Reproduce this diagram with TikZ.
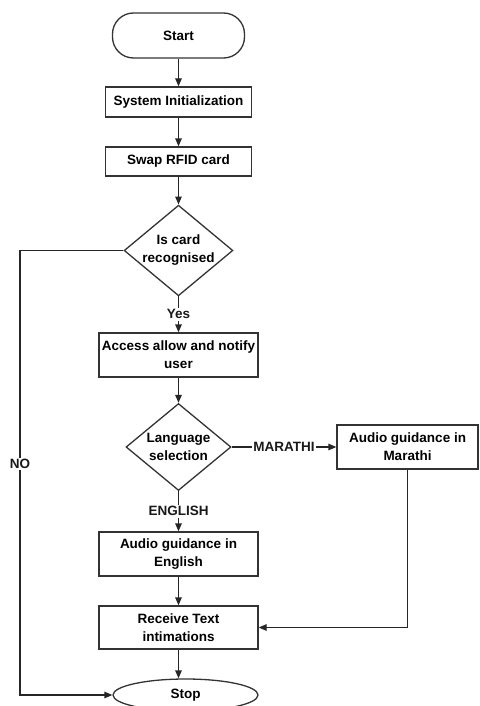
\documentclass[tikz,border=0pt]{standalone}
\usepackage{fontspec}
\setmainfont{Liberation Sans}
\usetikzlibrary{shapes.geometric,arrows.meta}
\begin{document}
\begin{tikzpicture}%
	[x=1pt,
	y=-1pt,
	font=\fontsize{13.5}{18}\selectfont\bfseries,
	terminal/.style={draw=black!80, line width=1.3pt, rectangle, rounded corners=21pt, minimum width=132pt, minimum height=45pt, inner sep=0pt},
	endterminal/.style={draw=black!80, line width=1.3pt, ellipse, minimum width=145pt, minimum height=32pt, inner sep=0pt},
	process/.style={draw=black!80, line width=1.3pt, rectangle, align=center, inner sep=0pt},
	decision/.style={draw=black!80, line width=1.3pt, diamond, aspect=1.2, align=center, inner sep=0pt, minimum width=105pt, minimum height=87pt},
	flowedge/.style={draw=black!85, line width=1.3pt, -{Triangle[length=8pt,width=6.5pt]}},
	flowlabel/.style={fill=white, inner sep=1.5pt, text=black!90}]
%
\useasboundingbox (0,0) rectangle (479,706);
%%
%% Drawing the steps
%%
\node[terminal] (start) at (178.5,35.5) {Start};
\node[process, minimum width=146pt, minimum height=30pt] (init) at (178.5,102) {System Initialization};
\node[process, minimum width=146pt, minimum height=29pt] (swap) at (178.5,161.5) {Swap RFID card};
\node[decision] (card) at (178.5,250.5) {Is card\\recognised};
\node[process, minimum width=159pt, minimum height=44pt] (access) at (178.5,355) {Access allow and notify\\user};
\node[decision] (lang) at (178.5,447) {Language\\selection};
\node[process, minimum width=141pt, minimum height=44pt] (marathi) at (407.5,447) {Audio guidance in\\Marathi};
\node[process, minimum width=159pt, minimum height=44pt] (english) at (178.5,554) {Audio guidance in\\English};
\node[process, minimum width=159pt, minimum height=43pt] (receive) at (178.5,627.5) {Receive Text\\intimations};
\node[endterminal] (stop) at (185.5,695) {Stop};
\coordinate (noturn) at (20,250.5);
%%
%% Drawing the connectors
%%
\draw[flowedge] (start) -- (init);
\draw[flowedge] (init) -- (swap);
\draw[flowedge] (swap) -- (card);
\draw[flowedge] (card) -- node[flowlabel] {Yes} (access);
\draw[flowedge] (access) -- (lang);
\draw[flowedge] (lang) -- node[flowlabel] {MARATHI} (marathi);
\draw[flowedge] (lang) -- node[flowlabel] {ENGLISH} (english);
\draw[flowedge] (english) -- (receive);
\draw[flowedge] (marathi.south) |- (receive.east);
\draw[flowedge] (receive) -- (receive |- stop.north);
\draw[flowedge] (card.west) -- (noturn) -- node[flowlabel, pos=0.48] {NO} (noturn |- stop.west) -- (stop.west);
%
\end{tikzpicture}
\end{document}
